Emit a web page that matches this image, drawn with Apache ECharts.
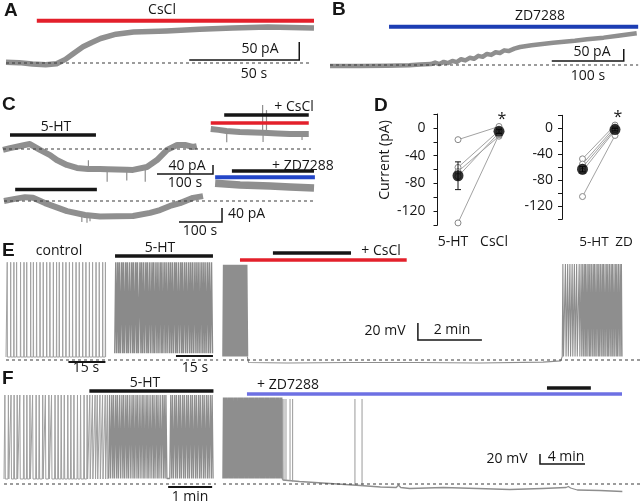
<!DOCTYPE html>
<html><head><meta charset="utf-8">
<script src="https://cdn.jsdelivr.net/npm/echarts@6/dist/echarts.min.js"></script>
<style>html,body{margin:0;padding:0;background:#fff}#c{width:640px;height:504px}</style>
</head><body><div id="c"></div>
<script>
// ================= DATA =================
// A: CsCl-induced current (time s, current pA)
const aTime = [0, 6, 12, 18, 23, 27, 31, 35, 39, 43, 50, 58, 73, 88, 103, 119, 140];
const aCurr = [2, 1, -3, -5, -2, 10, 28, 45, 57, 68, 80, 86, 89, 94, 97, 100, 97];
const aDrug = [14, 140];
const aScale = [50, 50];            // s, pA
// B: ZD7288-induced current
const bTime = [0, 40, 80, 110, 125, 140, 146, 152, 158, 164, 170, 176, 182, 188, 194, 200, 206, 212, 218, 224, 230, 236, 242, 248, 256, 264, 280, 310, 340, 357, 380, 400, 426];
const bCurr = [-4, -4, -3, -1, 2, 4, 10, 4, 13, 8, 17, 12, 24, 19, 30, 26, 38, 34, 46, 42, 53, 50, 61, 58, 68, 75, 82, 93, 101, 107, 114, 122, 132];
const bDrug = [82, 428];
const bScale = [100, 50];
// C: 5-HT currents, alone and with CsCl / ZD7288
const cHtTime = [0, 12.5, 39, 48, 66, 84, 96, 114, 132, 152, 173, 186, 221, 232, 257, 275, 293, 311, 325, 339, 346];
const cHtCurr = [-4, 4, 18, 22, -4, -27, -49, -71, -84, -89, -89, -90, -92, -93, -80, -49, -4, 18, 18, 9, 13];
const cHtSpikes = [[152.5, -89, -50], [186, -90, -145], [221, -92, -140], [254, -85, -145]];
const cHtDrug = [12.5, 166];
const cCsTime = [371, 385, 399, 423, 450, 464, 490, 512, 546];
const cCsCurr = [89, 85, 80, 76, 73, 72, 69, 67, 67];
const cCsSpikes = [[399.5, 80, 30], [463.6, 72, 196], [464.4, 72, 31], [470.5, 72, 173], [534, 67, 40]];
const cCsDrug = [371, 546];
const cCsHt = [395, 546];
const cHt2Time = [0, 25.6, 48.8, 67.4, 95.3, 146.5, 188.4, 223.3, 300, 339.5, 362.8, 386, 409.3, 439.5, 462.8];
const cHt2Curr = [0, 6, 11, 9, -6, -29, -40, -44, -43, -34, -26, -14, -6, 9, 14];
const cHt2Spikes = [[181, -40, -60], [193, -42, -62], [200, -43, -58]];
const cHt2Drug = [26, 216];
const cZdTime = [491, 549, 619, 665, 721];
const cZdCurr = [51, 46, 43, 40, 37];
const cZdDrug = [491, 723];
const cZdHt = [530, 721];
const cScale = [100, 40];
// D: summary (pA)
const dCats1 = ['5-HT', 'CsCl'];
const dHt1 = [-17, -57, -63, -70, -137];
const dCs1 = [2, -4, -12, -7, -10];
const dMean1 = [-69, -5];
const dSem1 = [20, 3];
const dCats2 = ['5-HT', 'ZD'];
const dHt2 = [-47, -55, -60, -66, -105];
const dZd2 = [5, 2, -1, -3, -11];
const dMean2 = [-63, -2];
const dSem2 = [4, 2];
// E: firing (control & 5-HT in s; CsCl in min), mV
const eCtrlSpikes = [0.5, 1.9, 3.2, 4.3, 5.9, 7.3, 8.4, 10.0, 11.1, 12.4, 13.8, 15.1, 16.5, 17.8, 19.2, 20.5, 21.6, 23.0, 24.3, 25.7, 27.0, 28.4, 29.7, 31.1, 32.4, 33.8, 35.1, 36.5, 37.8, 39.2, 40.3];
const eHtSpikes = [44.5, 45.3, 46.0, 46.9, 47.6, 48.5, 49.2, 50.1, 51.0, 51.7, 52.6, 53.3, 54.3, 55.0, 55.8, 56.7, 57.4, 58.3, 59.2, 59.9, 60.8, 61.6, 62.5, 63.2, 64.1, 64.9, 65.8, 66.6, 67.4, 68.3, 69.0, 69.9, 70.8, 71.5, 72.4, 73.2, 74.1, 74.9, 75.7, 76.6, 77.4, 78.2, 79.1, 79.9, 80.7, 81.6, 82.4, 83.3];
const eHtDrug = [44.2, 83.9];
const eCsBlock = [0.02, 0.06, 0.11, 0.16, 0.21, 0.26, 0.30, 0.35, 0.40, 0.45, 0.50, 0.54, 0.59, 0.64, 0.69, 0.74];
const eCsFlatT = [0.8, 2, 4, 6, 8, 10, 10.55];
const eCsFlatV = [-3, -3.5, -3, -3, -3.5, -2.5, -1];
const eCsResume = [10.62, 10.70, 10.77, 10.84, 10.91, 10.98, 11.05, 11.13, 11.19, 11.24, 11.29, 11.33, 11.38, 11.43, 11.47, 11.52, 11.57, 11.61, 11.66, 11.71, 11.75, 11.80, 11.85, 11.89, 11.94, 11.99, 12.03, 12.08, 12.13, 12.17, 12.22, 12.27, 12.31, 12.36, 12.41, 12.45];
const eCsDrug = [0.53, 5.74];
const eCsHt = [1.56, 4.0];
const eScaleS = 15, eScaleMv = 20, eScaleMin = 2;
// F: firing (min), mV
const fSparse = [0.02, 0.10, 0.16, 0.23, 0.30, 0.36, 0.45, 0.52, 0.59, 0.65, 0.73, 0.80, 0.88, 0.94, 1.02, 1.08, 1.16, 1.23, 1.30, 1.37, 1.45, 1.52, 1.59, 1.67, 1.74, 1.82, 1.89, 1.95, 2.01, 2.07, 2.12, 2.18, 2.24, 2.30, 2.35];
const fDense = [2.40, 2.45, 2.49, 2.54, 2.58, 2.63, 2.68, 2.72, 2.77, 2.81, 2.86, 2.91, 2.95, 3.00, 3.04, 3.09, 3.14, 3.18, 3.23, 3.27, 3.32, 3.37, 3.41, 3.46, 3.50, 3.55, 3.60, 3.64, 3.68, 3.79, 3.83, 3.88, 3.92, 3.97, 4.01, 4.06, 4.10, 4.15, 4.19, 4.24, 4.28, 4.33, 4.37, 4.42, 4.46, 4.51, 4.55, 4.60, 4.64, 4.69, 4.73];
const fHtDrug = [1.94, 4.76];
const fZdBlock = [0.05, 0.18, 0.31, 0.45, 0.58, 0.71, 0.84, 0.98, 1.11, 1.24, 1.38, 1.51, 1.64, 1.77, 1.91, 2.04, 2.17, 2.31, 2.44, 2.57, 2.70, 2.84, 2.97, 3.10, 3.24, 3.37, 3.50, 3.63, 3.77, 3.90, 4.03, 4.17, 4.30, 4.43, 4.56, 4.70, 4.83, 4.96, 5.10, 5.22];
const fLateT = [5.30, 5.42, 5.60, 5.96, 6.19, 11.73, 12.36];
const fLateBase = [8, 8, 7, 6, 5, -3, -3];
const fTailT = [5.3, 6.8, 9.5, 12.2, 14.0, 15.4, 15.6, 15.8, 16.6, 19.6, 22.6, 25.5, 28.4, 30.5, 30.7, 30.9, 31.5, 33.5, 35.5];
const fTailV = [8, 5, 1, -3, -6, -7, -2, -7, -9, -7, -9, -11, -9, -7, -5, -8, -12, -13, -15];
const fZdDrug = [2.13, 35.47];
const fZdHt = [28.8, 32.7];
const fScaleMin1 = 1, fScaleMv = 20, fScaleMin4 = 4;

// ================= BUILD =================
const FONT = '"Open Sans", "Liberation Sans", sans-serif';
const GRAY = '#8f8f8f';
const RED = '#e3202b';
const BLUE_B = '#1c3db3';
const BLUE_C = '#2346c8';
const BLUE_F = '#6d70e3';
const INK = '#161616';

const grids = [], xAxes = [], yAxes = [], series = [], graphics = [];
const zip = (xs, ys) => xs.map((x, i) => [x, ys[i]]);

function panel(left, top, width, height, xmin, xmax, ymin, ymax) {
  const i = grids.length;
  grids.push({ left, top, width, height });
  xAxes.push({ type: 'value', gridIndex: i, min: xmin, max: xmax, show: false });
  yAxes.push({ type: 'value', gridIndex: i, min: ymin, max: ymax, show: false });
  return i;
}
function line(gi, data, color, width, extra) {
  series.push(Object.assign({
    type: 'line', xAxisIndex: gi, yAxisIndex: gi, data, symbol: 'none', showSymbol: false,
    silent: true, animation: false, z: 2,
    lineStyle: { color, width, join: 'round' }
  }, extra || {}));
}
function band(gi, data, w) { line(gi, data, GRAY, w, { z: 2 }); }
function bar(gi, span, level, color, w) {
  line(gi, [[span[0], level], [span[1], level]], color, w || 4, { lineStyle: { color, width: w || 4, cap: 'butt' }, z: 3 });
}
function dashed(gi, t0, t1) {
  line(gi, [[t0, 0], [t1, 0]], '#3a3a3a', 1, { lineStyle: { color: '#3a3a3a', width: 1, type: [3, 3] }, z: 4 });
}
function scaleL(gi, t0, v0, dt, dv) {
  line(gi, [[t0, v0], [t0 + dt, v0], [t0 + dt, v0 + dv]], INK, 1.5, { lineStyle: { color: INK, width: 1.5, join: 'miter' }, z: 4 });
}
function scaleR(gi, t0, v0, dt, dv) {
  line(gi, [[t0, v0 + dv], [t0, v0], [t0 + dt, v0]], INK, 1.5, { lineStyle: { color: INK, width: 1.5, join: 'miter' }, z: 4 });
}
function segs(gi, rows, color, w) {
  series.push({
    type: 'custom', xAxisIndex: gi, yAxisIndex: gi, coordinateSystem: 'cartesian2d', data: rows,
    encode: { x: 0, y: [1, 2] }, silent: true, animation: false, z: 3, clip: false,
    renderItem: (p, api) => {
      const a = api.coord([api.value(0), api.value(1)]), b = api.coord([api.value(0), api.value(2)]);
      return { type: 'line', shape: { x1: a[0], y1: a[1], x2: b[0], y2: b[1] }, style: { stroke: color, lineWidth: w } };
    }
  });
}
function spikeData(times, base, peak, hw) {
  const d = [];
  times.forEach(t => { d.push([t - hw, base], [t, peak], [t + hw, base]); });
  return d;
}
function T(x, y, s, o) {
  graphics.push({ type: 'text', x, y, silent: true, z: 100,
    style: Object.assign({ text: s, fontFamily: FONT, fontSize: 14, fill: INK,
      align: 'center', verticalAlign: 'middle', textAlign: 'center', textVerticalAlign: 'middle' }, o || {}) });
}
function L(x, y, s) {
  T(x, y, s, { fontFamily: '"Liberation Sans", Arial, sans-serif', fontWeight: 'bold', fontSize: 19, align: 'left', textAlign: 'left' });
}

// ---- A ----
const gA = panel(6, 0, 308, 72, 0, 140, -25, 175);
dashed(gA, 0, 139);
band(gA, zip(aTime, aCurr), 5.5);
bar(gA, aDrug, 117.5, RED, 4);
scaleL(gA, 83.3, 8.3, aScale[0], aScale[1]);
L(4, 11, 'A'); T(162, 10, 'CsCl'); T(260, 49, aScale[1] + ' pA'); T(254, 74, aScale[0] + ' s');

// ---- B ----
const gB = panel(330, 0, 308, 80, 0, 427.78, -62.5, 270.83);
dashed(gB, 0, 428);
band(gB, zip(bTime, bCurr), 4.5);
bar(gB, bDrug, 159.6, BLUE_B, 4);
scaleL(gB, 308, 16.7, bScale[0], bScale[1]);
L(332, 10, 'B'); T(540, 16, 'ZD7288'); T(592, 52, bScale[1] + ' pA'); T(588, 76, bScale[0] + ' s');

// ---- C ----
const gC1 = panel(3, 95, 327, 90, 0, 583.93, -160, 240);
dashed(gC1, 0, 550);
band(gC1, zip(cHtTime, cHtCurr), 6);
segs(gC1, cHtSpikes, GRAY, 1.2);
band(gC1, zip(cCsTime, cCsCurr), 6);
segs(gC1, cCsSpikes, GRAY, 1.2);
bar(gC1, cHtDrug, 62, INK, 3.5);
bar(gC1, cCsHt, 151, INK, 3.5);
bar(gC1, cCsDrug, 115.6, RED, 3.5);
scaleL(gC1, 275, -111, cScale[0], cScale[1]);
const gC2 = panel(4, 166, 326, 59.5, 0, 758.14, -70, 100);
dashed(gC2, 0, 723);
band(gC2, zip(cHt2Time, cHt2Curr), 6);
segs(gC2, cHt2Spikes, GRAY, 1.2);
band(gC2, zip(cZdTime, cZdCurr), 7.5);
bar(gC2, cHt2Drug, 33, INK, 3.5);
bar(gC2, cZdHt, 85.7, INK, 3.5);
bar(gC2, cZdDrug, 67.7, BLUE_C, 4);
scaleL(gC2, 407, -60, cScale[0], cScale[1]);
L(2, 105, 'C'); T(56, 127, '5-HT'); T(294, 107, '+ CsCl');
T(187, 166, cScale[1] + ' pA'); T(185, 183, cScale[0] + ' s');
T(272, 166, '+ ZD7288', { align: 'left', textAlign: 'left' });
T(228, 214, cScale[1] + ' pA', { align: 'left', textAlign: 'left' }); T(200, 231, cScale[0] + ' s');

// ---- D ----
function dPanel(left, top, width, height, offset, labelMargin, cats, ht, drug, mean, sem) {
  const i = grids.length;
  grids.push({ left, top, width, height });
  xAxes.push({ type: 'category', gridIndex: i, data: cats, boundaryGap: true,
    axisLine: { show: false }, axisTick: { show: false }, axisLabel: { show: false }, splitLine: { show: false } });
  yAxes.push({ type: 'value', gridIndex: i, min: -140, max: 20, interval: 20, offset,
    axisLine: { show: true, lineStyle: { color: INK, width: 1 } },
    axisTick: { show: true, length: 4, lineStyle: { color: INK, width: 1 } },
    axisLabel: { formatter: v => (v % 40 === 0 ? String(v) : ''), fontSize: 14, color: INK, fontFamily: FONT, margin: labelMargin },
    splitLine: { show: false } });
  ht.forEach((v, k) => {
    series.push({ type: 'line', xAxisIndex: i, yAxisIndex: i, data: [[0, v], [1, drug[k]]],
      symbol: 'circle', symbolSize: 6, showSymbol: true, silent: true, animation: false, z: 2,
      lineStyle: { color: '#a2a2a2', width: 1 }, itemStyle: { color: '#fff', borderColor: '#888', borderWidth: 1 } });
  });
  series.push({ type: 'custom', xAxisIndex: i, yAxisIndex: i, coordinateSystem: 'cartesian2d',
    data: mean.map((m, k) => [k, m, sem[k]]), encode: { x: 0, y: 1 }, silent: true, animation: false, z: 5,
    renderItem: (p, api) => {
      const x = api.value(0), m = api.value(1), e = api.value(2);
      const a = api.coord([x, m + e]), b = api.coord([x, m - e]);
      const st = { stroke: INK, lineWidth: 1 };
      return { type: 'group', children: [
        { type: 'line', shape: { x1: a[0], y1: a[1], x2: b[0], y2: b[1] }, style: st },
        { type: 'line', shape: { x1: a[0] - 3, y1: a[1], x2: a[0] + 3, y2: a[1] }, style: st },
        { type: 'line', shape: { x1: b[0] - 3, y1: b[1], x2: b[0] + 3, y2: b[1] }, style: st }] };
    } });
  series.push({ type: 'scatter', xAxisIndex: i, yAxisIndex: i, data: mean.map((m, k) => [k, m]),
    symbol: 'circle', symbolSize: 11, itemStyle: { color: '#000' }, silent: true, animation: false, z: 6 });
}
dPanel(437.5, 114, 82, 111, 0, 12, dCats1, dHt1, dCs1, dMean1, dSem1);
dPanel(566.25, 115.3, 65, 104, 4.25, 9, dCats2, dHt2, dZd2, dMean2, dSem2);
L(374, 106, 'D');
T(385, 160, 'Current (pA)', {});
graphics[graphics.length - 1].rotation = Math.PI / 2;
T(453, 242, dCats1[0]); T(494, 242, dCats1[1]);
T(594, 242, dCats2[0], { fontSize: 13.5 }); T(624, 242, dCats2[1], { fontSize: 13.5 });
T(502, 119, '*', { fontSize: 16 }); T(618, 117, '*', { fontSize: 16 });

// ---- E ----
const gE1 = panel(6, 245.25, 212, 124.95, 0, 85.94, -12, 135);
dashed(gE1, 0, 86);
line(gE1, [[0, 3.5]].concat(spikeData(eCtrlSpikes, 3.5, 115, 0.08), [[40.6, 3.5]]), '#a2a2a2', 1, { lineStyle: { color: '#a2a2a2', width: 1, join: 'bevel' } });
line(gE1, spikeData(eHtSpikes, 8, 115, 0.4), '#8a8a8a', 1.5, { lineStyle: { color: '#8a8a8a', width: 1.5, join: 'bevel' } });
bar(gE1, eHtDrug, 122.4, INK, 3.5);
line(gE1, [[25.3, -2.4], [25.3 + eScaleS, -2.4]], INK, 2, { z: 4 });
line(gE1, [[68.9, 4.7], [68.9 + eScaleS, 4.7]], INK, 2, { z: 4 });
const gE2 = panel(223, 245.25, 417, 124.95, 0, 13.03, -12, 135);
dashed(gE2, 0, 13.03);
line(gE2, [[0, 4]].concat(spikeData(eCsBlock, 4, 112, 0.025)), '#8e8e8e', 1.6, { lineStyle: { color: '#8e8e8e', width: 1.6, join: 'bevel' } });
line(gE2, [[0.76, 4]].concat(zip(eCsFlatT, eCsFlatV), spikeData(eCsResume, 4, 113, 0.02)),
  '#8e8e8e', 1, { lineStyle: { color: '#8e8e8e', width: 1.1, join: 'bevel' } });
bar(gE2, eCsDrug, 117.6, RED, 3.5);
bar(gE2, eCsHt, 125.9, INK, 3.5);
scaleR(gE2, 6.09, 23.5, eScaleMin, eScaleMv);
L(2, 251, 'E'); T(59, 251, 'control'); T(160, 248, '5-HT');
T(86, 368, eScaleS + ' s'); T(195, 368, eScaleS + ' s');
T(381, 251, '+ CsCl'); T(385, 331, eScaleMv + ' mV'); T(452, 330, eScaleMin + ' min');

// ---- F ----
const gF1 = panel(4, 380, 212, 120, 0, 4.818, -32, 208);
dashed(gF1, 0, 4.818);
line(gF1, [[0, 10]].concat(spikeData(fSparse, 10, 178, 0.01)), '#a0a0a0', 1, { lineStyle: { color: '#a0a0a0', width: 1, join: 'bevel' } });
line(gF1, spikeData(fDense, 11, 178, 0.022), '#8e8e8e', 1.3, { lineStyle: { color: '#8e8e8e', width: 1.3, join: 'bevel' } });
bar(gF1, fHtDrug, 186, INK, 3.5);
line(gF1, [[3.73, -6], [3.73 + fScaleMin1, -6]], INK, 2, { z: 4 });
const gF2 = panel(223, 380, 417, 120, 0, 37.07, -32, 208);
dashed(gF2, 0, 37.07);
line(gF2, [[0, 11]].concat(spikeData(fZdBlock, 11, 173, 0.065), [[5.3, 9]]), '#8e8e8e', 1.5, { lineStyle: { color: '#8e8e8e', width: 1.5, join: 'bevel' } });
line(gF2, zip(fTailT, fTailV), '#8e8e8e', 1.3);
segs(gF2, fLateT.map((t, k) => [t, fLateBase[k], 170]), '#9a9a9a', 1);
bar(gF2, fZdDrug, 180, BLUE_F, 3.5);
bar(gF2, fZdHt, 192, INK, 3.5);
scaleR(gF2, 28.18, 40, fScaleMin4, fScaleMv);
L(2, 379, 'F'); T(145, 383, '5-HT'); T(190, 497, fScaleMin1 + ' min');
T(288, 385, '+ ZD7288'); T(507, 459, fScaleMv + ' mV'); T(566, 457, fScaleMin4 + ' min');

const chart = echarts.init(document.getElementById('c'), null, { renderer: 'canvas' });
chart.setOption({
  animation: false, backgroundColor: '#fff',
  grid: grids, xAxis: xAxes, yAxis: yAxes, series, graphic: graphics
});
</script></body></html>
